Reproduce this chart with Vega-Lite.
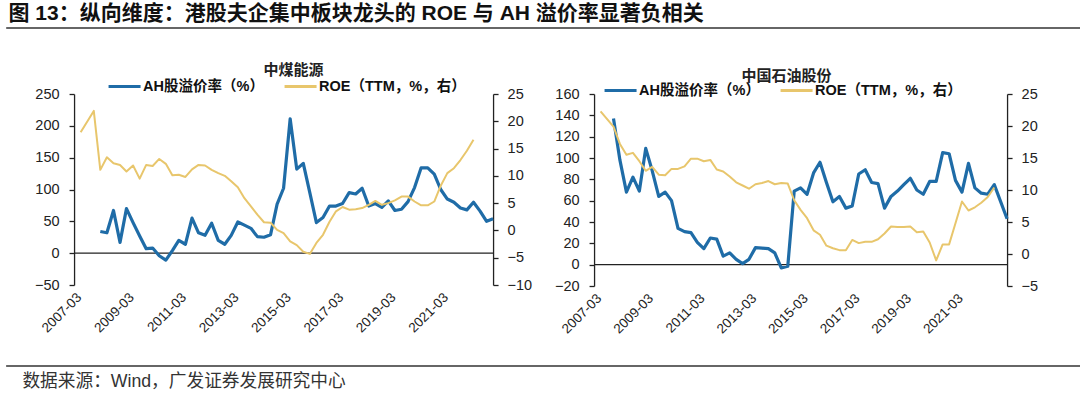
{
 "$schema": "https://vega.github.io/schema/vega-lite/v6.json",
 "background": "white",
 "padding": {"left": 5, "right": 5, "top": 3, "bottom": 2},
 "config": {"view": {"stroke": null}, "font": "Liberation Sans"},
 "spacing": 29,
 "center": true,
 "vconcat": [
  {"spacing": 34, "center": true, "vconcat": [
   {"width": 1136, "height": 1, "data": {"values": [{}]}, "mark": {"type": "rule", "color": "#333", "strokeWidth": 1.5},
    "encoding": {"y": {"datum": 0, "type": "quantitative", "scale": {"domain": [0, 1]}, "axis": null}},
    "title": {"text": "图 13：纵向维度：港股夫企集中板块龙头的 ROE 与 AH 溢价率显著负相关", "anchor": "start", "font": "Liberation Sans, Noto Sans CJK SC", "fontSize": 21, "fontWeight": "bold", "color": "#111", "offset": 3, "dx": 3}},
   {"hconcat": [
    {"title": {"text": "中煤能源", "font": "Noto Sans CJK SC", "fontSize": 15, "fontWeight": "bold", "color": "#222", "anchor": "middle", "offset": -1, "dx": 10},
     "width": 419, "height": 191,
     "data": {"values": [
      {"d":"2007-06","ah":null,"roe":18},{"d":"2007-12","ah":null,"roe":21.9},
      {"d":"2008-03","ah":34,"roe":11.1},{"d":"2008-06","ah":32,"roe":13.4},{"d":"2008-09","ah":67,"roe":12.3},{"d":"2008-12","ah":17,"roe":12},
      {"d":"2009-03","ah":70,"roe":10.8},{"d":"2009-06","ah":48,"roe":11.9},{"d":"2009-09","ah":27,"roe":9.5},{"d":"2009-12","ah":7,"roe":12},
      {"d":"2010-03","ah":8,"roe":11.8},{"d":"2010-06","ah":-4,"roe":13.1},{"d":"2010-09","ah":-11,"roe":12.2},{"d":"2010-12","ah":4,"roe":10.1},
      {"d":"2011-03","ah":20,"roe":10.2},{"d":"2011-06","ah":14,"roe":9.8},{"d":"2011-09","ah":55,"roe":11.2},{"d":"2011-12","ah":32,"roe":12},
      {"d":"2012-03","ah":28,"roe":11.9},{"d":"2012-06","ah":47,"roe":11.1},{"d":"2012-09","ah":20,"roe":10.5},{"d":"2012-12","ah":14,"roe":10},
      {"d":"2013-03","ah":28,"roe":9},{"d":"2013-06","ah":49,"roe":7.9},{"d":"2013-09","ah":44,"roe":5.9},{"d":"2013-12","ah":39,"roe":4.4},
      {"d":"2014-03","ah":26,"roe":2.9},{"d":"2014-06","ah":25,"roe":1.5},{"d":"2014-09","ah":29,"roe":1.4},{"d":"2014-12","ah":77,"roe":0.1},
      {"d":"2015-03","ah":102,"roe":-0.5},{"d":"2015-06","ah":211,"roe":-2.0},{"d":"2015-09","ah":132,"roe":-2.7},{"d":"2015-12","ah":141,"roe":-3.9},
      {"d":"2016-03","ah":95,"roe":-4.3},{"d":"2016-06","ah":48,"roe":-2.3},{"d":"2016-09","ah":56,"roe":-0.8},{"d":"2016-12","ah":74,"roe":1.6},
      {"d":"2017-03","ah":74,"roe":3.5},{"d":"2017-06","ah":78,"roe":4.3},{"d":"2017-09","ah":95,"roe":3.8},{"d":"2017-12","ah":93,"roe":3.9},
      {"d":"2018-03","ah":102,"roe":4.1},{"d":"2018-06","ah":74,"roe":4.7},{"d":"2018-09","ah":78,"roe":5.4},{"d":"2018-12","ah":72,"roe":4.7},
      {"d":"2019-03","ah":82,"roe":5.0},{"d":"2019-06","ah":67,"roe":5.5},{"d":"2019-09","ah":69,"roe":6.2},{"d":"2019-12","ah":81,"roe":6.2},
      {"d":"2020-03","ah":103,"roe":5.3},{"d":"2020-06","ah":134,"roe":4.6},{"d":"2020-09","ah":134,"roe":4.6},{"d":"2020-12","ah":124,"roe":5.3},
      {"d":"2021-03","ah":100,"roe":8.2},{"d":"2021-06","ah":85,"roe":10.5},{"d":"2021-09","ah":80,"roe":11.4},{"d":"2021-12","ah":71,"roe":12.9},
      {"d":"2022-03","ah":68,"roe":14.6},{"d":"2022-06","ah":80,"roe":16.6},{"d":"2022-09","ah":66,"roe":null},{"d":"2022-12","ah":50,"roe":null},
      {"d":"2023-03","ah":54,"roe":null}
     ], "format": {"parse": {"d": "date:'%Y-%m'"}}},
     "layer": [
      {"layer": [
       {"data": {"values": [{}]}, "mark": {"type": "rule", "color": "#222", "strokeWidth": 1.3},
        "encoding": {"y": {"datum": 0, "type": "quantitative", "scale": {"domain": [-50, 250], "nice": false, "zero": false},
               "axis": {"orient": "left", "values": [-50, 0, 50, 100, 150, 200, 250], "labelOverlap": false, "title": null, "grid": false, "domainColor": "#222", "domainWidth": 1.3, "tickColor": "#222", "tickSize": 5, "tickWidth": 1.3, "labelFontSize": 14.5, "labelColor": "#222", "labelPadding": 10, "minExtent": 68.7}}}},
       {"data": {"values": [{"d":"2009-03"},{"d":"2011-03"},{"d":"2013-03"},{"d":"2015-03"},{"d":"2017-03"},{"d":"2019-03"},{"d":"2021-03"}], "format": {"parse": {"d": "date:'%Y-%m'"}}},
        "mark": {"type": "rule", "color": "#222", "strokeWidth": 1.2},
        "encoding": {"x": {"field": "d", "type": "temporal"},
               "y": {"datum": 0, "type": "quantitative", "scale": {"domain": [-50, 250], "nice": false, "zero": false},
               "axis": {"orient": "left", "values": [-50, 0, 50, 100, 150, 200, 250], "labelOverlap": false, "title": null, "grid": false, "domainColor": "#222", "domainWidth": 1.3, "tickColor": "#222", "tickSize": 5, "tickWidth": 1.3, "labelFontSize": 14.5, "labelColor": "#222", "labelPadding": 10, "minExtent": 68.7}},
               "y2": {"datum": -7}}},
       {"mark": {"type": "line", "strokeWidth": 3.2, "strokeJoin": "round"},
        "encoding": {
         "x": {"field": "d", "type": "temporal", "scale": {"domain": [{"year": 2007, "month": 3, "date": 1}, {"year": 2023, "month": 3, "date": 1}], "nice": false},
               "axis": {"values": [{"year": 2007, "month": 3, "date": 1}, {"year": 2009, "month": 3, "date": 1}, {"year": 2011, "month": 3, "date": 1}, {"year": 2013, "month": 3, "date": 1}, {"year": 2015, "month": 3, "date": 1}, {"year": 2017, "month": 3, "date": 1}, {"year": 2019, "month": 3, "date": 1}, {"year": 2021, "month": 3, "date": 1}],
                        "format": "%Y-%m", "labelAngle": -45, "domain": false, "ticks": false, "grid": false, "title": null, "labelFontSize": 13.5, "labelColor": "#222", "labelPadding": 5, "labelOverlap": false}},
         "y": {"field": "ah", "type": "quantitative", "scale": {"domain": [-50, 250], "nice": false, "zero": false},
               "axis": {"orient": "left", "values": [-50, 0, 50, 100, 150, 200, 250], "labelOverlap": false, "title": null, "grid": false, "domainColor": "#222", "domainWidth": 1.3, "tickColor": "#222", "tickSize": 5, "tickWidth": 1.3, "labelFontSize": 14.5, "labelColor": "#222", "labelPadding": 10, "minExtent": 68.7}},
         "color": {"datum": "AH股溢价率（%）",
                   "scale": {"domain": ["AH股溢价率（%）", "ROE（TTM，%，右）"], "range": ["#1f6ca7", "#e8c66c"]},
                   "legend": {"orient": "none", "legendX": 33, "legendY": -17, "direction": "horizontal", "title": null, "symbolType": "M-1,0H3", "symbolSize": 256, "symbolStrokeWidth": 3, "labelFont": "Liberation Sans, Noto Sans CJK SC", "labelFontSize": 14.5, "labelFontWeight": "bold", "labelColor": "#111", "labelOffset": 17, "columnPadding": 14, "padding": 0}}
        }}
      ]},
      {"mark": {"type": "line", "strokeWidth": 2, "strokeJoin": "round"},
       "encoding": {
        "x": {"field": "d", "type": "temporal"},
        "y": {"field": "roe", "type": "quantitative", "scale": {"domain": [-10, 25], "nice": false, "zero": false},
              "axis": {"orient": "right", "values": [-10, -5, 0, 5, 10, 15, 20, 25], "labelOverlap": false, "title": null, "grid": false, "domainColor": "#222", "domainWidth": 1.3, "tickColor": "#222", "tickSize": 5, "tickWidth": 1.3, "labelFontSize": 14.5, "labelColor": "#222", "labelPadding": 9, "minExtent": 40}},
        "color": {"datum": "ROE（TTM，%，右）"}
       }}
     ],
     "resolve": {"scale": {"y": "independent"}}
    },
    {"title": {"text": "中国石油股份", "font": "Noto Sans CJK SC", "fontSize": 15, "fontWeight": "bold", "color": "#222", "anchor": "middle", "offset": -3, "dx": -14},
     "width": 413, "height": 192,
     "data": {"values": [
      {"d":"2007-06","ah":null,"roe":22.3},{"d":"2007-12","ah":137,"roe":19.9},
      {"d":"2008-03","ah":98,"roe":17.2},{"d":"2008-06","ah":68,"roe":15.5},{"d":"2008-09","ah":82,"roe":15.8},{"d":"2008-12","ah":69,"roe":14.5},
      {"d":"2009-03","ah":109,"roe":13},{"d":"2009-06","ah":88,"roe":13.6},{"d":"2009-09","ah":64,"roe":12.4},{"d":"2009-12","ah":68,"roe":12.3},
      {"d":"2010-03","ah":60,"roe":13.3},{"d":"2010-06","ah":34,"roe":13.3},{"d":"2010-09","ah":31,"roe":13.7},{"d":"2010-12","ah":30,"roe":14.9},
      {"d":"2011-03","ah":21,"roe":14.9},{"d":"2011-06","ah":15,"roe":14.5},{"d":"2011-09","ah":25,"roe":14.7},{"d":"2011-12","ah":24,"roe":13.2},
      {"d":"2012-03","ah":8,"roe":12.9},{"d":"2012-06","ah":11,"roe":12.1},{"d":"2012-09","ah":5,"roe":11.2},{"d":"2012-12","ah":1,"roe":10.7},
      {"d":"2013-03","ah":5,"roe":10.2},{"d":"2013-06","ah":16,"roe":10.9},{"d":"2013-09","ah":15.5,"roe":11.1},{"d":"2013-12","ah":15,"roe":11.4},
      {"d":"2014-03","ah":11,"roe":10.9},{"d":"2014-06","ah":-3,"roe":11.1},{"d":"2014-09","ah":-1.5,"roe":11.0},{"d":"2014-12","ah":69,"roe":8.4},
      {"d":"2015-03","ah":72,"roe":6.9},{"d":"2015-06","ah":66,"roe":5.6},{"d":"2015-09","ah":86,"roe":3.7},{"d":"2015-12","ah":96,"roe":3.0},
      {"d":"2016-03","ah":77,"roe":1.3},{"d":"2016-06","ah":59,"roe":0.9},{"d":"2016-09","ah":64,"roe":0.6},{"d":"2016-12","ah":53,"roe":0.6},
      {"d":"2017-03","ah":55,"roe":2.2},{"d":"2017-06","ah":85,"roe":1.7},{"d":"2017-09","ah":89,"roe":1.9},{"d":"2017-12","ah":77,"roe":1.9},
      {"d":"2018-03","ah":76,"roe":2.3},{"d":"2018-06","ah":53,"roe":3.2},{"d":"2018-09","ah":64,"roe":4.3},{"d":"2018-12","ah":69,"roe":4.2},
      {"d":"2019-03","ah":75,"roe":4.2},{"d":"2019-06","ah":81,"roe":4.3},{"d":"2019-09","ah":70,"roe":3.4},{"d":"2019-12","ah":66,"roe":3.5},
      {"d":"2020-03","ah":78,"roe":1.8},{"d":"2020-06","ah":78,"roe":-1.0},{"d":"2020-09","ah":105,"roe":1.5},{"d":"2020-12","ah":104,"roe":1.5},
      {"d":"2021-03","ah":79,"roe":4.8},{"d":"2021-06","ah":68,"roe":8.2},{"d":"2021-09","ah":95,"roe":6.8},{"d":"2021-12","ah":72,"roe":7.3},
      {"d":"2022-03","ah":67,"roe":8.0},{"d":"2022-06","ah":66,"roe":8.9},{"d":"2022-09","ah":75,"roe":10.4},
      {"d":"2023-03","ah":43,"roe":null}
     ], "format": {"parse": {"d": "date:'%Y-%m'"}}},
     "layer": [
      {"layer": [
       {"data": {"values": [{}]}, "mark": {"type": "rule", "color": "#222", "strokeWidth": 1.3},
        "encoding": {"y": {"datum": 0, "type": "quantitative", "scale": {"domain": [-20, 160], "nice": false, "zero": false},
               "axis": {"orient": "left", "values": [-20, 0, 20, 40, 60, 80, 100, 120, 140, 160], "labelOverlap": false, "title": null, "grid": false, "domainColor": "#222", "domainWidth": 1.3, "tickColor": "#222", "tickSize": 5, "tickWidth": 1.3, "labelFontSize": 14.5, "labelColor": "#222", "labelPadding": 10, "minExtent": 41}}}},
       {"data": {"values": [{"d":"2009-03"},{"d":"2011-03"},{"d":"2013-03"},{"d":"2015-03"},{"d":"2017-03"},{"d":"2019-03"},{"d":"2021-03"}], "format": {"parse": {"d": "date:'%Y-%m'"}}},
        "mark": {"type": "rule", "color": "#222", "strokeWidth": 1.2},
        "encoding": {"x": {"field": "d", "type": "temporal"},
               "y": {"datum": 0, "type": "quantitative", "scale": {"domain": [-20, 160], "nice": false, "zero": false},
               "axis": {"orient": "left", "values": [-20, 0, 20, 40, 60, 80, 100, 120, 140, 160], "labelOverlap": false, "title": null, "grid": false, "domainColor": "#222", "domainWidth": 1.3, "tickColor": "#222", "tickSize": 5, "tickWidth": 1.3, "labelFontSize": 14.5, "labelColor": "#222", "labelPadding": 10, "minExtent": 41}},
               "y2": {"datum": -4.5}}},
       {"mark": {"type": "line", "strokeWidth": 3.2, "strokeJoin": "round"},
        "encoding": {
         "x": {"field": "d", "type": "temporal", "scale": {"domain": [{"year": 2007, "month": 3, "date": 1}, {"year": 2023, "month": 3, "date": 1}], "nice": false},
               "axis": {"values": [{"year": 2007, "month": 3, "date": 1}, {"year": 2009, "month": 3, "date": 1}, {"year": 2011, "month": 3, "date": 1}, {"year": 2013, "month": 3, "date": 1}, {"year": 2015, "month": 3, "date": 1}, {"year": 2017, "month": 3, "date": 1}, {"year": 2019, "month": 3, "date": 1}, {"year": 2021, "month": 3, "date": 1}],
                        "format": "%Y-%m", "labelAngle": -45, "domain": false, "ticks": false, "grid": false, "title": null, "labelFontSize": 13.5, "labelColor": "#222", "labelPadding": 5, "labelOverlap": false}},
         "y": {"field": "ah", "type": "quantitative", "scale": {"domain": [-20, 160], "nice": false, "zero": false},
               "axis": {"orient": "left", "values": [-20, 0, 20, 40, 60, 80, 100, 120, 140, 160], "labelOverlap": false, "title": null, "grid": false, "domainColor": "#222", "domainWidth": 1.3, "tickColor": "#222", "tickSize": 5, "tickWidth": 1.3, "labelFontSize": 14.5, "labelColor": "#222", "labelPadding": 10, "minExtent": 41}},
         "color": {"datum": "AH股溢价率（%）",
                   "scale": {"domain": ["AH股溢价率（%）", "ROE（TTM，%，右）"], "range": ["#1f6ca7", "#e8c66c"]},
                   "legend": {"orient": "none", "legendX": 9, "legendY": -13, "direction": "horizontal", "title": null, "symbolType": "M-1,0H3", "symbolSize": 256, "symbolStrokeWidth": 3, "labelFont": "Liberation Sans, Noto Sans CJK SC", "labelFontSize": 14.5, "labelFontWeight": "bold", "labelColor": "#111", "labelOffset": 17, "columnPadding": 14, "padding": 0}}
        }}
      ]},
      {"mark": {"type": "line", "strokeWidth": 2, "strokeJoin": "round"},
       "encoding": {
        "x": {"field": "d", "type": "temporal"},
        "y": {"field": "roe", "type": "quantitative", "scale": {"domain": [-5, 25], "nice": false, "zero": false},
              "axis": {"orient": "right", "values": [-5, 0, 5, 10, 15, 20, 25], "labelOverlap": false, "title": null, "grid": false, "domainColor": "#222", "domainWidth": 1.3, "tickColor": "#222", "tickSize": 5, "tickWidth": 1.3, "labelFontSize": 14.5, "labelColor": "#222", "labelPadding": 9, "minExtent": 68}},
        "color": {"datum": "ROE（TTM，%，右）"}
       }}
     ],
     "resolve": {"scale": {"y": "independent"}}
    }
   ], "spacing": 20, "resolve": {"scale": {"color": "independent"}, "legend": {"color": "independent"}}}
  ]},
  {"width": 1136, "height": 1, "data": {"values": [{}]}, "mark": {"type": "rule", "color": "#333", "strokeWidth": 1.5},
   "encoding": {"y": {"datum": 0, "type": "quantitative", "scale": {"domain": [0, 1]}, "axis": null}},
   "title": {"text": "数据来源：Wind，广发证券发展研究中心", "orient": "bottom", "anchor": "start", "font": "Liberation Sans, Noto Sans CJK SC", "fontSize": 17.7, "fontWeight": "normal", "color": "#333", "offset": 6, "dx": 17}}
 ]
}
